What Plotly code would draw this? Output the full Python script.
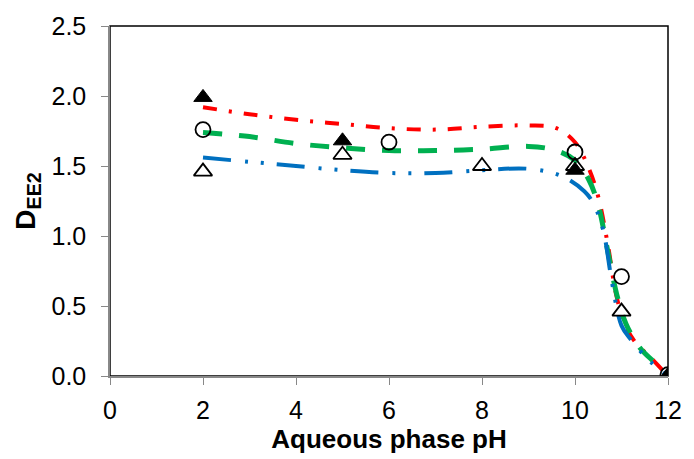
import plotly.graph_objects as go

# Model curves
red_x = [2, 3, 4, 5, 6, 7, 8, 9, 9.6, 10, 10.3, 10.5, 10.7, 10.9, 11.1, 11.3, 11.6, 12]
red_y = [1.92, 1.87, 1.83, 1.80, 1.77, 1.76, 1.78, 1.79, 1.77, 1.67, 1.48, 1.28, 0.95, 0.56, 0.35, 0.24, 0.14, 0.0]

green_x = [2, 3, 4, 5, 6, 7, 8, 9, 9.6, 10, 10.3, 10.5, 10.7, 10.9, 11.1, 11.4, 11.7, 12]
green_y = [1.74, 1.71, 1.66, 1.63, 1.61, 1.61, 1.62, 1.64, 1.61, 1.54, 1.40, 1.22, 0.90, 0.58, 0.37, 0.20, 0.10, 0.0]

blue_x = [2, 3, 4, 5, 6, 7, 8, 9, 9.7, 10.2, 10.4, 10.6, 10.8, 11.0, 11.2, 11.6, 12]
blue_y = [1.56, 1.53, 1.50, 1.47, 1.45, 1.45, 1.47, 1.48, 1.43, 1.32, 1.23, 1.05, 0.66, 0.36, 0.26, 0.11, 0.0]

# Experimental points
ftri_x = [2, 5, 10, 12]
ftri_y = [1.99, 1.68, 1.47, 0.0]
circ_x = [2, 6, 10, 11, 12]
circ_y = [1.76, 1.67, 1.60, 0.71, 0.01]
otri_x = [2, 5, 8, 10, 11, 12]
otri_y = [1.46, 1.58, 1.50, 1.50, 0.46, 0.0]

x_ticks = [0, 2, 4, 6, 8, 10, 12]
y_ticks = [0.0, 0.5, 1.0, 1.5, 2.0, 2.5]

FONT = "Liberation Sans, Arial"

fig = go.Figure()
fig.add_trace(go.Scatter(x=red_x, y=red_y, mode="lines", line_shape="spline",
                         line=dict(color="#FF0000", width=4, dash="14px,12px,3px,12px")))
fig.add_trace(go.Scatter(x=green_x, y=green_y, mode="lines", line_shape="spline",
                         line=dict(color="#00B050", width=5, dash="19px,17px")))
fig.add_trace(go.Scatter(x=blue_x, y=blue_y, mode="lines", line_shape="spline",
                         line=dict(color="#0070C0", width=4, dash="28px,14px,3px,13px,3px,13px")))
fig.add_trace(go.Scatter(x=ftri_x, y=ftri_y, mode="markers",
                         marker=dict(symbol="triangle-up", size=16, color="black",
                                     line=dict(color="black", width=1))))
fig.add_trace(go.Scatter(x=circ_x, y=circ_y, mode="markers",
                         marker=dict(symbol="circle-open", size=15, color="black",
                                     line=dict(color="black", width=1.8))))
fig.add_trace(go.Scatter(x=otri_x, y=otri_y, mode="markers",
                         marker=dict(symbol="triangle-up-open", size=16, color="black",
                                     line=dict(color="black", width=1.8))))

fig.add_shape(type="rect", xref="paper", yref="paper", x0=0, y0=0, x1=1, y1=1,
              line=dict(color="black", width=1.5), layer="below")

axis_common = dict(showgrid=False, zeroline=False, showline=True, linecolor="#888888",
                   linewidth=1.5, ticks="outside", tickcolor="#888888", ticklen=7,
                   tickwidth=1.2, tickfont=dict(family=FONT, size=25, color="black"))

fig.update_xaxes(range=[0, 12], tickvals=x_ticks, ticktext=[str(v) for v in x_ticks],
                 ticklabelstandoff=4,
                 title=dict(text="<b>Aqueous phase pH</b>",
                            font=dict(family=FONT, size=26, color="black"),
                            standoff=2),
                 **axis_common)
fig.update_yaxes(range=[0, 2.5], tickvals=y_ticks, ticktext=[f"{v:.1f}" for v in y_ticks],
                 ticklabelstandoff=10,
                 title=dict(text="<b>D<sub>EE2</sub></b>",
                            font=dict(family=FONT, size=28, color="black"),
                            standoff=8),
                 **axis_common)

fig.update_layout(width=694, height=459, showlegend=False,
                  margin=dict(l=110, r=17, t=20, b=83),
                  plot_bgcolor="white", paper_bgcolor="white")

fig.write_html("out.html")
